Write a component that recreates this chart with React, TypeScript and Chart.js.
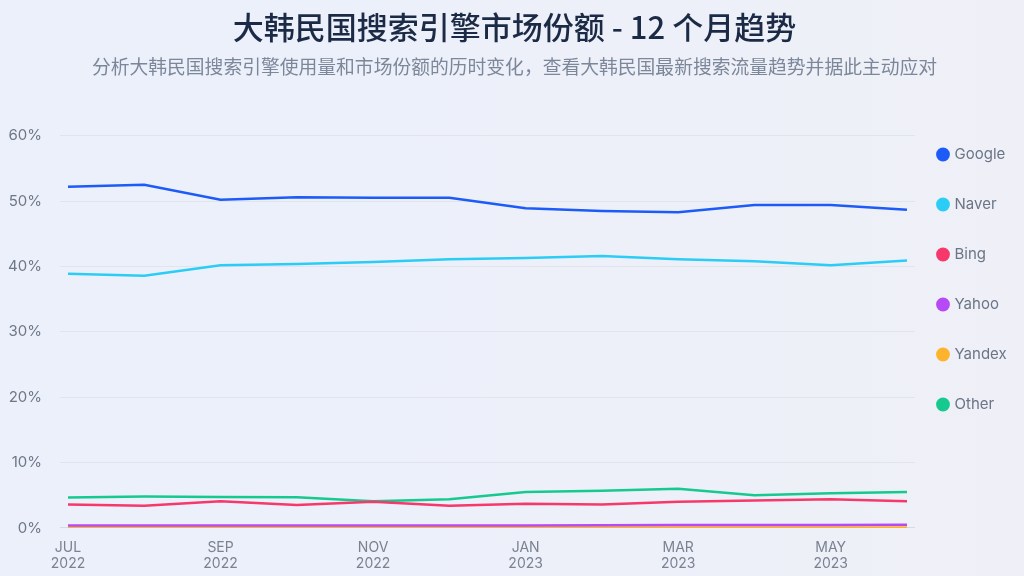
import React, { useEffect, useRef } from "react";
import { Chart, registerables } from "chart.js";

Chart.register(...registerables);

const months = ["JUL", "AUG", "SEP", "OCT", "NOV", "DEC", "JAN", "FEB", "MAR", "APR", "MAY", "JUN"];
const years = ["2022", "2022", "2022", "2022", "2022", "2022", "2023", "2023", "2023", "2023", "2023", "2023"];
const yTicks = [0, 10, 20, 30, 40, 50, 60];

const google = [52.2, 52.5, 50.2, 50.6, 50.5, 50.5, 48.9, 48.5, 48.3, 49.4, 49.4, 48.7];
const naver = [38.9, 38.6, 40.2, 40.4, 40.7, 41.1, 41.3, 41.6, 41.1, 40.8, 40.2, 40.9];
const bing = [3.6, 3.4, 4.1, 3.5, 4.0, 3.4, 3.7, 3.6, 4.0, 4.2, 4.4, 4.1];
const yahoo = [0.4, 0.4, 0.4, 0.4, 0.4, 0.4, 0.4, 0.42, 0.44, 0.45, 0.45, 0.48];
const yandex = [0.08, 0.08, 0.08, 0.08, 0.08, 0.08, 0.08, 0.08, 0.08, 0.08, 0.08, 0.08];
const other = [4.65, 4.8, 4.75, 4.7, 4.1, 4.4, 5.5, 5.7, 6.0, 5.0, 5.3, 5.5];

const seriesNames = ["Google", "Naver", "Bing", "Yahoo", "Yandex", "Other"];
const seriesValues = [google, naver, bing, yahoo, yandex, other];
const seriesColors = ["#1D5BF8", "#2BCDF6", "#F7386B", "#B54AF6", "#FDB42C", "#16C98F"];

const title = "大韩民国搜索引擎市场份额 - 12 个月趋势";
const subtitle = "分析大韩民国搜索引擎使用量和市场份额的历时变化，查看大韩民国最新搜索流量趋势并据此主动应对";

const legendShift = {
  id: "legendShift",
  afterLayout(chart: any) {
    const lg = chart.legend;
    if (lg) {
      lg.left -= 11;
      lg.right -= 11;
    }
  },
};

export default function App() {
  const ref = useRef<HTMLCanvasElement | null>(null);

  useEffect(() => {
    document.body.style.margin = "0";
    const canvas = ref.current;
    if (!canvas) return;
    const chart = new Chart(canvas, {
      type: "line",
      data: {
        datasets: seriesNames.map((name, k) => ({
          label: name,
          data: seriesValues[k].map((v, i) => ({ x: i, y: v })),
          borderColor: seriesColors[k],
          backgroundColor: seriesColors[k],
          borderWidth: 2.5,
          pointRadius: 0,
          tension: 0,
        })),
      },
      plugins: [legendShift],
      options: {
        animation: false,
        responsive: true,
        maintainAspectRatio: false,
        layout: { padding: { left: 5, right: 0, bottom: -8, top: 0 } },
        plugins: {
          title: {
            display: true,
            text: title,
            color: "#1B2A45",
            font: { family: "'Noto Sans CJK SC', sans-serif", size: 31, weight: "500" },
            padding: { top: 9, bottom: 9 },
          },
          subtitle: {
            display: true,
            text: subtitle,
            color: "#7C8799",
            font: { family: "'Noto Sans CJK SC', sans-serif", size: 18.8, weight: "400" },
            padding: { bottom: 58 },
          },
          legend: {
            position: "right",
            align: "start",
            maxWidth: 109,
            title: {
              display: true,
              text: " ",
              color: "rgba(0,0,0,0)",
              font: { size: 10, lineHeight: 1 },
              padding: { top: 102, bottom: 0 },
            },
            labels: {
              usePointStyle: true,
              pointStyle: "circle",
              boxWidth: 8,
              boxHeight: 8,
              padding: 35,
              color: "#6B7585",
              font: { family: "Inter, sans-serif", size: 15 },
            },
          },
          tooltip: { enabled: false },
        },
        scales: {
          x: {
            type: "linear",
            min: -0.105,
            max: 11.105,
            afterBuildTicks: (scale: any) => {
              scale.ticks = months.map((_, i) => ({ value: i })).filter((t) => t.value % 2 === 0);
            },
            ticks: {
              autoSkip: false,
              maxRotation: 0,
              padding: 12,
              color: "#7A8291",
              font: { family: "Inter, sans-serif", size: 14, lineHeight: 1.143 },
              callback: (v: any) => {
                const i = Math.round(Number(v));
                return [months[i], years[i]];
              },
            },
            grid: { display: false, drawTicks: false },
            border: { display: false },
          },
          y: {
            min: 0,
            max: 60,
            afterBuildTicks: (scale: any) => {
              scale.ticks = yTicks.map((v) => ({ value: v }));
            },
            afterFit: (scale: any) => {
              scale.width = 55;
            },
            ticks: {
              padding: 18,
              color: "#6F7787",
              font: { family: "Inter, sans-serif", size: 15 },
              callback: (v: any) => v + "%",
            },
            grid: {
              color: (ctx: any) => (ctx.tick && ctx.tick.value === 0 ? "#D3DAEC" : "#E2E4EB"),
              drawTicks: false,
            },
            border: { display: false },
          },
        },
      },
    });
    return () => chart.destroy();
  }, []);

  return (
    <div
      style={{
        position: "absolute",
        left: 0,
        top: 0,
        width: 1024,
        height: 576,
        background: "linear-gradient(90deg, #EBF0FB 0%, #EDF0F9 60%, #EFF0F7 100%)",
      }}
    >
      <canvas ref={ref} />
    </div>
  );
}
